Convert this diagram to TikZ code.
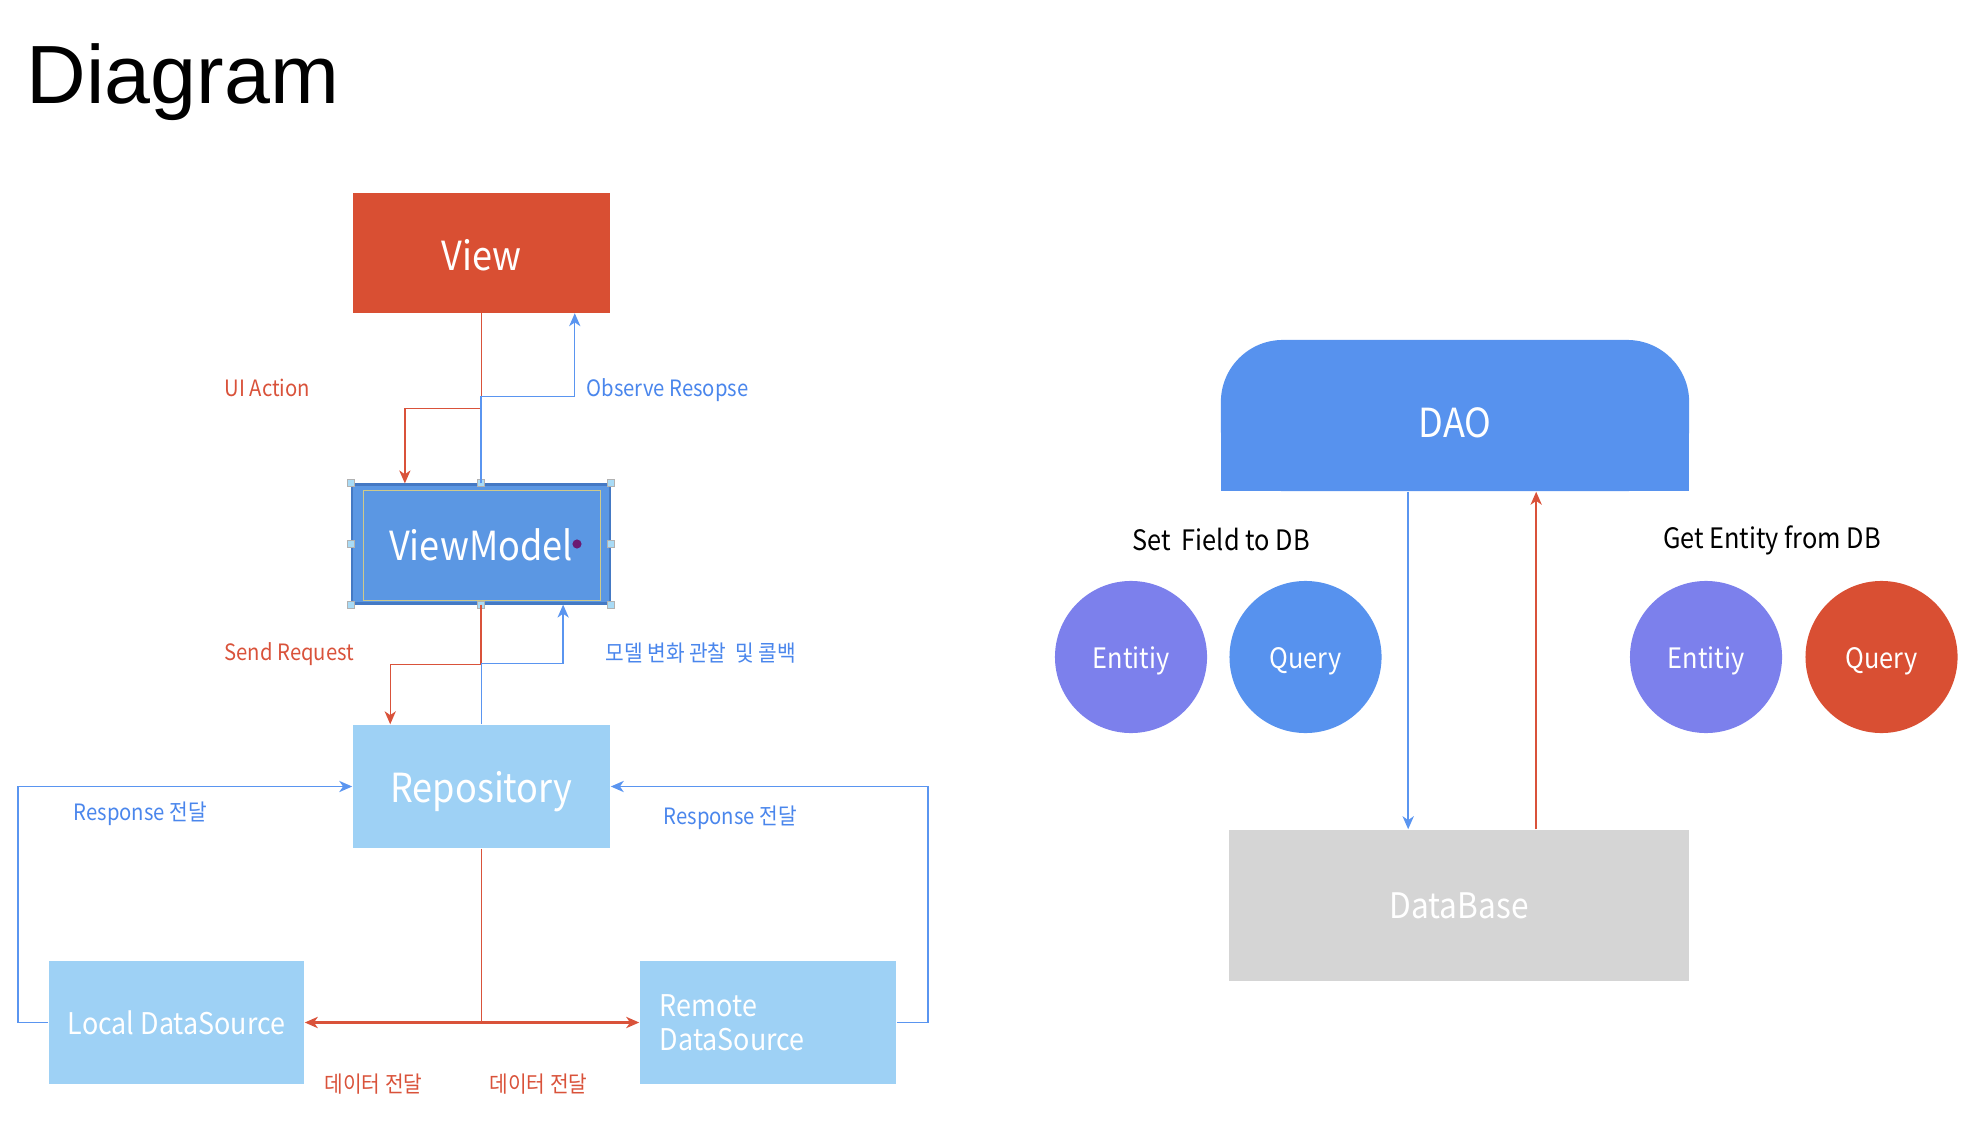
\documentclass[tikz,border=0pt]{standalone}
\usepackage{fontspec}
\setmainfont[FakeStretch=0.9]{Noto Sans CJK KR}
\newfontfamily\titlefont{Liberation Sans}
\usepackage{tikz}
\usetikzlibrary{arrows.meta,positioning,calc}

\definecolor{viewred}{HTML}{D94F33}
\definecolor{vmblue}{HTML}{5B97E3}
\definecolor{vmborder}{HTML}{4479C4}
\definecolor{vmyellow}{HTML}{CFC98A}
\definecolor{vmdot}{HTML}{6B1A72}
\definecolor{handleblue}{HTML}{A9DBF6}
\definecolor{repoblue}{HTML}{9ED1F5}
\definecolor{daoblue}{HTML}{5792EE}
\definecolor{entpurple}{HTML}{7C80EC}
\definecolor{dbgray}{HTML}{D5D5D5}
\definecolor{linered}{HTML}{D9523A}
\definecolor{lineblue}{HTML}{5A95F0}
\definecolor{labelred}{HTML}{D9523A}
\definecolor{labelblue}{HTML}{4A86EC}

\begin{document}
\begin{tikzpicture}[x=0.01cm,y=-0.01cm,>={Stealth[length=3.7pt,width=3.2pt,inset=1.1pt]},
  box/.style={rectangle,inner sep=0pt,text=white},
  bigfont/.style={font=\fontsize{11.4}{13}\selectfont,text height=0.93em,text depth=0pt},
  lbl/.style={font=\fontsize{6.4}{7.6}\selectfont,anchor=west,inner sep=0pt},
  ball/.style={circle,minimum size=1.52cm,inner sep=0pt,text=white,font=\fontsize{8}{9.6}\selectfont,text height=0.66em,text depth=0pt},
  handle/.style={rectangle,draw=gray!60,fill=handleblue,minimum size=0.07cm,inner sep=0pt,line width=0.3pt},
  redline/.style={draw=linered,line width=0.4pt},
  blueline/.style={draw=lineblue,line width=0.4pt}]
\useasboundingbox (0,0) rectangle (1964,1146);
% title
\node[anchor=base west,inner sep=0pt,font=\titlefont\fontsize{23.5}{28}\selectfont] (title) at (26,104) {Diagram};
% MVVM stack
\node[box,bigfont,text height=1.0em,fill=viewred,minimum width=2.57cm,minimum height=1.19cm] (view) at (481.5,253) {View};
\node[box,bigfont,fill=vmblue,draw=vmborder,line width=0.6pt,minimum width=2.58cm,minimum height=1.19cm] (vm) at (481,544) {ViewModel};
\draw[vmyellow,line width=0.3pt] ($(vm.north west)+(13,7.5)$) rectangle ($(vm.south east)+(-11,-4)$);
\fill[vmdot] (577,544) circle (1.3pt);
\foreach \a in {north west,north,north east,west,east,south west,south,south east}
  \node[handle] at (vm.\a) {};
\node[box,bigfont,fill=repoblue,minimum width=2.57cm,minimum height=1.23cm] (repo) at (481.5,786.5) {Repository};
\node[box,fill=repoblue,minimum width=2.55cm,minimum height=1.23cm,font=\fontsize{8.5}{9.6}\selectfont,text height=0.68em,text depth=0pt] (local) at (176.5,1022.5) {Local DataSource};
\node[box,fill=repoblue,text width=2.16cm,inner xsep=0.2cm,minimum height=1.23cm,align=left,font=\fontsize{8.5}{9.6}\selectfont] (remote) at (768,1022.5) {Remote\\DataSource};
% connectors
\draw[redline,->] (view.south) -- ++(0,95) -| ($(vm.north west)+(54,0)$);
\draw[blueline,->] (vm.north) -- ++(0,-87) -| ($(view.south east)+(-36,0)$);
\draw[redline,->] (vm.south) -- ++(0,60) -| ($(repo.north west)+(38,0)$);
\draw[blueline,->] (repo.north) -- ++(0,-61) -| ($(vm.south east)+(-48,0)$);
\draw[blueline,line width=0.45pt,->] (local.west) -- ++(-30,0) |- (repo.west);
\draw[blueline,line width=0.45pt,->] (remote.east) -- ++(31,0) |- (repo.east);
\draw[redline] (repo.south) -- (repo.south |- local.east) coordinate (fork);
\draw[redline,line width=0.6pt,->] (fork) -- (local.east);
\draw[redline,line width=0.6pt,->] (fork) -- (remote.west);
% labels
\node[lbl,text=labelred] (uiact) at (224,388) {UI Action};
\node[lbl,text=labelblue] (observe) at (586,390) {Observe Resopse};
\node[lbl,text=labelred] (sendreq) at (224,654) {Send Request};
\node[lbl,text=labelblue] (callback) at (605,653) {모델 변화 관찰\ \ 및 콜백};
\node[lbl,text=labelblue] (resleft) at (73,814) {Response 전달};
\node[lbl,text=labelblue] (resright) at (663,818) {Response 전달};
\node[lbl,text=labelred] (dataleft) at (324,1084) {데이터 전달};
\node[lbl,text=labelred] (dataright) at (489,1084) {데이터 전달};
% DAO / DataBase
\fill[daoblue] (1221,420) rectangle (1689,491);
\node[box,bigfont,text height=1.27em,fill=daoblue,rounded corners=6.2mm,minimum width=4.68cm,minimum height=1.51cm] (dao) at (1455,415.5) {DAO};
\node[box,fill=dbgray,minimum width=4.6cm,minimum height=1.51cm,font=\fontsize{10}{12}\selectfont] (db) at (1459,905.5) {DataBase};
\coordinate (setx) at ($(dao.south west)+(188,0)$);
\coordinate (getx) at ($(dao.south west)+(316,0)$);
\draw[blueline,line width=0.5pt,->] (setx) -- (setx |- db.north);
\draw[redline,line width=0.5pt,->] (getx |- db.north) -- (getx);
\node[font=\fontsize{8}{9.6}\selectfont] (setlbl) at (1221,539) {Set\ \ Field to DB};
\node[font=\fontsize{8}{9.6}\selectfont] (getlbl) at (1772,540) {Get Entity from DB};
\node[ball,fill=entpurple] (ent1) at (1131,657) {Entitiy};
\node[ball,fill=daoblue,right=0.21cm of ent1] (qry1) {Query};
\node[ball,fill=entpurple] (ent2) at (1706,657) {Entitiy};
\node[ball,fill=viewred,right=0.22cm of ent2] (qry2) {Query};
\end{tikzpicture}
\end{document}
